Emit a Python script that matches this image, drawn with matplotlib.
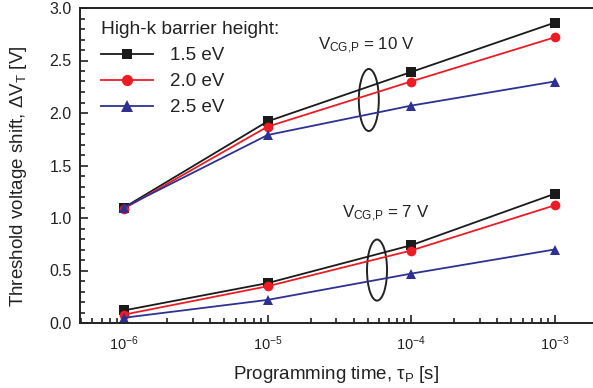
import matplotlib
matplotlib.use("Agg")
import matplotlib.pyplot as plt
from matplotlib.patches import Ellipse
from matplotlib.ticker import FixedLocator, LogLocator, NullFormatter, FuncFormatter, MultipleLocator
import numpy as np

plt.rcParams['font.family'] = ['Liberation Sans', 'DejaVu Sans']
plt.rcParams['mathtext.fontset'] = 'custom'
plt.rcParams['mathtext.rm'] = 'Liberation Sans'
plt.rcParams['mathtext.it'] = 'Liberation Sans:italic'
plt.rcParams['mathtext.sf'] = 'Liberation Sans'

# Programming time [s]
times = [1e-6, 1e-5, 1e-4, 1e-3]

# Threshold voltage shift [V] at V_CG,P = 10 V
dvt_10v_15 = [1.10, 1.92, 2.39, 2.86]
dvt_10v_20 = [1.09, 1.87, 2.30, 2.72]
dvt_10v_25 = [1.10, 1.79, 2.07, 2.30]

# Threshold voltage shift [V] at V_CG,P = 7 V
dvt_7v_15 = [0.12, 0.38, 0.74, 1.23]
dvt_7v_20 = [0.08, 0.35, 0.69, 1.12]
dvt_7v_25 = [0.05, 0.22, 0.47, 0.70]

barrier_labels = ['1.5 eV', '2.0 eV', '2.5 eV']
colors = ['#1a1a1a', '#ed1c24', '#2e3192']
markers = ['s', 'o', '^']
msizes = [6.5, 7, 7.5]

W, H = 593, 388
fig = plt.figure(figsize=(W / 100, H / 100), dpi=100)
ax = fig.add_axes([80 / W, (H - 323) / H, (W - 80) / W, 315 / H])

handles = []
for vals10, vals7, lab, c, m, ms in zip(
        [dvt_10v_15, dvt_10v_20, dvt_10v_25],
        [dvt_7v_15, dvt_7v_20, dvt_7v_25],
        barrier_labels, colors, markers, msizes):
    h, = ax.plot(times, vals10, color=c, marker=m, ms=ms, lw=1.3, label=lab,
                 markeredgewidth=0)
    ax.plot(times, vals7, color=c, marker=m, ms=ms, lw=1.3, markeredgewidth=0)
    handles.append(h)

ax.set_xscale('log')
ax.set_xlim(10 ** -6.307, 10 ** -2.732)
ax.set_ylim(0, 3.0)

ax.xaxis.set_major_locator(FixedLocator([1e-6, 1e-5, 1e-4, 1e-3]))
ax.xaxis.set_minor_locator(LogLocator(base=10, subs=np.arange(2, 10), numticks=20))
ax.xaxis.set_minor_formatter(NullFormatter())
ax.xaxis.set_major_formatter(FuncFormatter(
    lambda v, p: r'$\mathregular{10^{%d}}$' % int(round(np.log10(v)))))
ax.yaxis.set_major_locator(MultipleLocator(0.5))
ax.yaxis.set_minor_locator(MultipleLocator(0.1))
ax.yaxis.set_major_formatter(FuncFormatter(lambda v, p: '%.1f' % v))

ax.tick_params(which='both', direction='in', top=False, right=False,
               width=1.2, colors='#222222', labelcolor='#222222')
ax.tick_params(which='major', length=6, pad=6)
ax.tick_params(which='minor', length=3.5)
ax.tick_params(axis='y', which='major', labelsize=11.5)
ax.tick_params(axis='x', which='major', labelsize=10.5, pad=8)

for s in ['left', 'bottom', 'top']:
    ax.spines[s].set_linewidth(1.4)
    ax.spines[s].set_color('#222222')
ax.spines['right'].set_visible(False)

ax.set_xlabel(r'Programming time, $\mathregular{\tau_P}$ [s]', fontsize=13.5,
              color='#222222', labelpad=8)
ax.set_ylabel(r'Threshold voltage shift, $\mathregular{\Delta V_T}$ [V]',
              fontsize=13.5, color='#222222')
ax.yaxis.set_label_coords(-0.100, 0.465)

leg = ax.legend(handles=handles, title='High-k barrier height:', loc='upper left',
                bbox_to_anchor=(0.015, 1.0), frameon=False, fontsize=13.5,
                title_fontsize=13.8, handlelength=2.8, handletextpad=0.9,
                labelspacing=0.48, alignment='left', borderaxespad=0.3,
                markerscale=1.15)
leg.get_title().set_color('#222222')
for t in leg.get_texts():
    t.set_color('#222222')

# Grouping ellipses and programming-voltage annotations
ax.add_patch(Ellipse((0.563, 0.708), 0.039, 0.197, transform=ax.transAxes,
                     fill=False, lw=1.4, ec='#222222'))
ax.add_patch(Ellipse((0.579, 0.168), 0.039, 0.194, transform=ax.transAxes,
                     fill=False, lw=1.4, ec='#222222'))
ax.text(0.463, 0.88, r'$\mathregular{V_{CG{,}P}}$ = 10 V', transform=ax.transAxes,
        fontsize=12.2, color='#222222', va='center', ha='left')
ax.text(0.510, 0.345, r'$\mathregular{V_{CG{,}P}}$ = 7 V', transform=ax.transAxes,
        fontsize=12.2, color='#222222', va='center', ha='left')

fig.savefig('out.png', dpi=100)
